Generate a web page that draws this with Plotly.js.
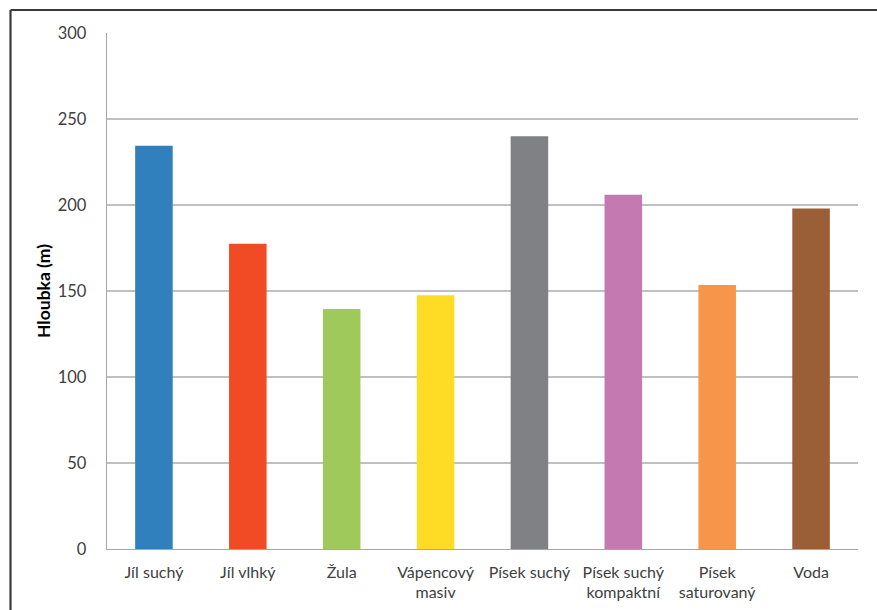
<!DOCTYPE html>
<html>
<head>
<meta charset="utf-8">
<script src="https://cdn.plot.ly/plotly-3.0.1.min.js"></script>
<style>
  html, body { margin: 0; padding: 0; background: #fff; }
  #chart { width: 877px; height: 610px; }
</style>
</head>
<body>
<div id="chart"></div>
<script>
// Penetration depth by medium
const categories = [
  "Jíl suchý",
  "Jíl vlhký",
  "Žula",
  "Vápencový<br>masiv",
  "Písek suchý",
  "Písek suchý<br>kompaktní",
  "Písek<br>saturovaný",
  "Voda"
];
const depths = [234.5, 177.5, 139.5, 147.5, 240, 206, 153.5, 198];
const barColors = ["#2f80bc", "#f04b24", "#a0c95b", "#fedb24", "#808184", "#c47ab1", "#f7964a", "#9a5f37"];
const yTicks = [0, 50, 100, 150, 200, 250, 300];

const font = "Lato, 'Open Sans', sans-serif";
const textColor = "#404040";

const trace = {
  type: "bar",
  x: categories,
  y: depths,
  marker: { color: barColors, line: { width: 0 } },
  hoverinfo: "x+y"
};

const layout = {
  width: 877,
  height: 610,
  margin: { l: 107, r: 19, t: 33, b: 61 },
  paper_bgcolor: "#ffffff",
  plot_bgcolor: "#ffffff",
  bargap: 0.6,
  showlegend: false,
  font: { family: font, color: textColor, size: 16 },
  xaxis: {
    type: "category",
    showgrid: false,
    showline: true,
    linecolor: "#a6a6a6",
    linewidth: 1.3,
    ticks: "",
    tickfont: { family: font, size: 16, color: textColor },
    ticklabelstandoff: 8,
    fixedrange: true
  },
  yaxis: {
    range: [0, 300],
    tickvals: yTicks,
    ticktext: yTicks.map(String),
    showgrid: true,
    gridcolor: "#c0c0c0",
    gridwidth: 1.3,
    zeroline: false,
    showline: true,
    linecolor: "#a6a6a6",
    linewidth: 1.3,
    ticks: "",
    tickfont: { family: font, size: 16.5, color: textColor },
    ticklabelstandoff: 16,
    title: {
      text: "<b>Hloubka (m)</b>",
      font: { family: font, size: 17.5, color: "#000000" },
      standoff: 2
    },
    fixedrange: true
  },
  shapes: [
    // outer chart frame (left and top edges)
    {
      type: "line", xref: "paper", yref: "paper",
      x0: -0.1285, x1: -0.1285, y0: -0.2, y1: 1.0446,
      line: { color: "#3a3a3a", width: 2.2 }
    },
    {
      type: "line", xref: "paper", yref: "paper",
      x0: -0.1285, x1: 1.1, y0: 1.0446, y1: 1.0446,
      line: { color: "#3a3a3a", width: 2.2 }
    }
  ]
};

Plotly.newPlot("chart", [trace], layout, { displayModeBar: false, staticPlot: true });
</script>
</body>
</html>
